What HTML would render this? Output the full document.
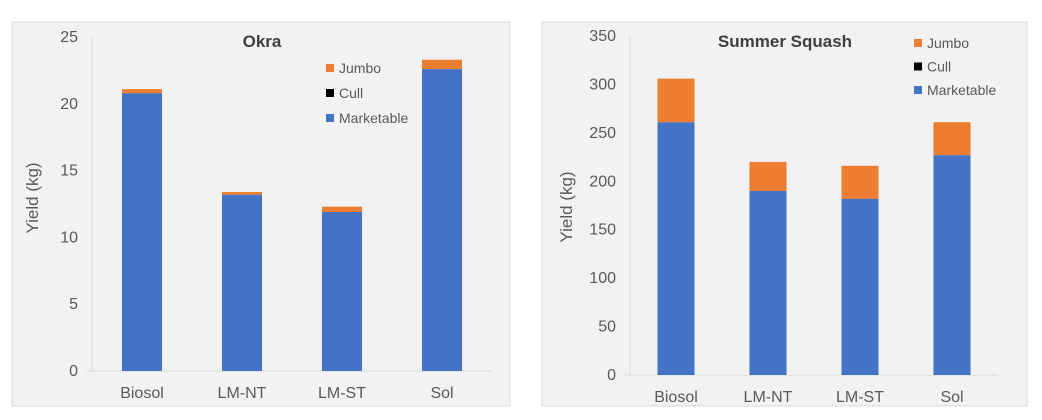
<!DOCTYPE html>
<html><head><meta charset="utf-8"><style>
html,body{margin:0;padding:0;background:#fff;width:1042px;height:420px;overflow:hidden}
svg{display:block;font-family:"Liberation Sans",sans-serif}
</style></head><body>
<svg id="svg" width="1042" height="420"></svg>
<script>
const categories=["Biosol","LM-NT","LM-ST","Sol"];
const okraMarketable=[20.8,13.2,11.9,22.6];
const okraCull=[0,0,0,0];
const okraJumbo=[0.3,0.2,0.4,0.7];
const okraTicks=[0,5,10,15,20,25];
const squashMarketable=[261,190,182,227];
const squashCull=[0,0,0,0];
const squashJumbo=[45,30,34,34];
const squashTicks=[0,50,100,150,200,250,300,350];
const legendLabels=["Jumbo","Cull","Marketable"];

const NS="http://www.w3.org/2000/svg";
const svg=document.getElementById('svg');
function mk(tag,attrs,parent,text){const e=document.createElementNS(NS,tag);for(const k in attrs)e.setAttribute(k,attrs[k]);if(text!=null)e.textContent=text;(parent||svg).appendChild(e);return e;}

function chart(cfg){
  const g=mk('g',{});
  
  
  const bg=mk('rect',{x:cfg.bx,y:22,width:cfg.bw,height:384,fill:'#f2f2f2',stroke:'#d9d9d9','stroke-width':1},g);
  
  
  const max=cfg.ticks[cfg.ticks.length-1];
  const y=v=>cfg.y0-(v/max)*(cfg.y0-cfg.yTop);
  const step=(cfg.x1-cfg.x0)/categories.length;
  const xc=i=>cfg.x0+step*(i+0.5);
  cfg.ticks.forEach(t=>{
    const tl=mk('text',{x:cfg.x0-14,y:y(t)+5,'text-anchor':'end','font-size':16,fill:'#595959'},g,String(t));
    
    
  });
  const ax=mk('line',{x1:cfg.x0,x2:cfg.x0,y1:cfg.yTop,y2:cfg.y0,stroke:'#d9d9d9'},g);
  
  
  const bx=mk('line',{x1:cfg.x0-6,x2:cfg.x1,y1:cfg.y0,y2:cfg.y0,stroke:'#d9d9d9'},g);
  
  
  categories.forEach((c,i)=>{
    const m=cfg.m[i],cu=cfg.c[i],j=cfg.j[i];
    const r1=mk('rect',{x:xc(i)-cfg.barW/2,y:y(m),width:cfg.barW,height:y(0)-y(m),fill:'#4472c4'},g);
    
    
    const r2=mk('rect',{x:xc(i)-cfg.barW/2,y:y(m+cu),width:cfg.barW,height:y(m)-y(m+cu),fill:'#000'},g);
    
    
    const r3=mk('rect',{x:xc(i)-cfg.barW/2,y:y(m+cu+j),width:cfg.barW,height:y(m+cu)-y(m+cu+j),fill:'#ed7d31'},g);
    
    
    const cl=mk('text',{x:xc(i),y:cfg.y0+27,'text-anchor':'middle','font-size':16,fill:'#595959'},g,c);
    
    
  });
  const t=mk('text',{x:cfg.tx,y:47,'text-anchor':'middle','font-size':17,'font-weight':'bold',fill:'#404040'},g,cfg.title);
  
  
  const yt=mk('text',{x:0,y:0,'text-anchor':'middle','font-size':17,fill:'#595959',transform:`translate(${cfg.ytx},${cfg.yty}) rotate(-90)`},g,'Yield (kg)');
  
  
  const cols=['#ed7d31','#000','#4472c4'];
  legendLabels.forEach((l,k)=>{
    const ly=cfg.ly+k*cfg.lgap;
    const sq=mk('rect',{x:cfg.lx,y:ly-4,width:8,height:8,fill:cols[k]},g);
    
    
    const lt=mk('text',{x:cfg.lx+13,y:ly+5,'font-size':14,fill:'#595959'},g,l);
    
    
  });
}
chart({name:'okra-chart',bx:12,bw:498,x0:92,x1:492,y0:371,yTop:37,barW:40,ticks:okraTicks,m:okraMarketable,c:okraCull,j:okraJumbo,title:'Okra',tx:262,ytx:38,yty:198,lx:326,ly:68,lgap:25});
chart({name:'summer-squash-chart',bx:542,bw:485,x0:630,x1:998,y0:375,yTop:36,barW:37,ticks:squashTicks,m:squashMarketable,c:squashCull,j:squashJumbo,title:'Summer Squash',tx:785,ytx:572,yty:207,lx:914,ly:43,lgap:23.5});
</script>
</body></html>
